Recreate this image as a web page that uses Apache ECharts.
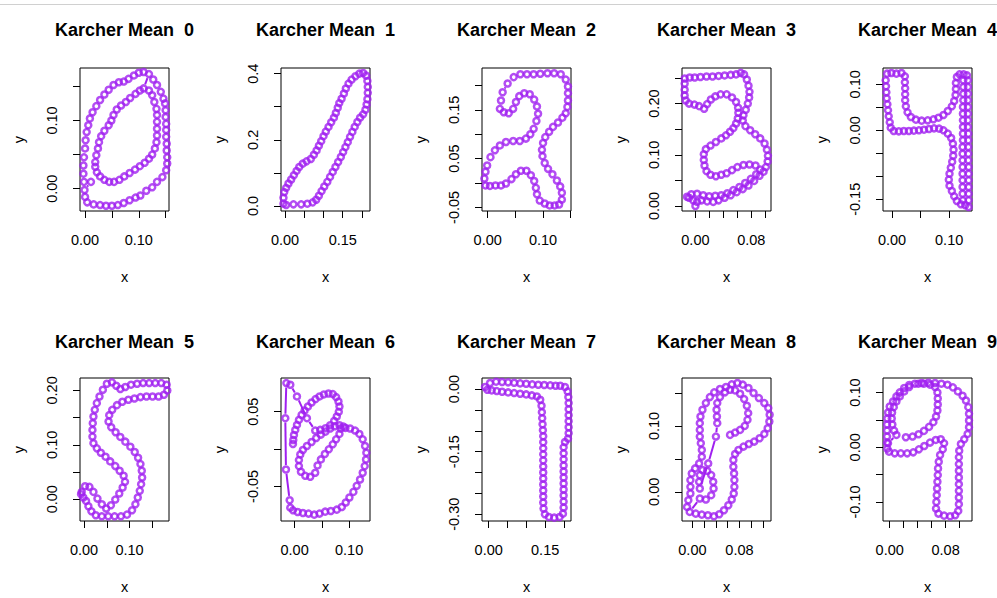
<!DOCTYPE html>
<html><head><meta charset="utf-8">
<script src="https://cdn.jsdelivr.net/npm/echarts@6/dist/echarts.min.js"></script>
<style>html,body{margin:0;padding:0;background:#fff}#c{width:997px;height:598px}</style>
</head><body><div id="c"></div>
<script>
const titles = ['Karcher Mean  0','Karcher Mean  1','Karcher Mean  2','Karcher Mean  3','Karcher Mean  4','Karcher Mean  5','Karcher Mean  6','Karcher Mean  7','Karcher Mean  8','Karcher Mean  9'];

const mean0 = [[0.109,0.171],[0.100,0.170],[0.091,0.166],[0.081,0.161],[0.072,0.157],[0.063,0.156],[0.053,0.152],[0.044,0.145],[0.036,0.138],[0.028,0.130],[0.021,0.121],[0.014,0.112],[0.009,0.103],[0.006,0.093],[0.003,0.083],[0.001,0.071],[0.000,0.059],[-0.002,0.046],[-0.003,0.034],[-0.003,0.022],[-0.002,0.010],[0.011,0.010],[-0.001,-0.002],[0.000,-0.012],[0.004,-0.020],[0.016,-0.023],[0.028,-0.024],[0.039,-0.025],[0.050,-0.025],[0.061,-0.024],[0.072,-0.021],[0.083,-0.017],[0.094,-0.013],[0.103,-0.010],[0.114,-0.003],[0.125,0.002],[0.134,0.010],[0.144,0.017],[0.151,0.027],[0.153,0.037],[0.153,0.046],[0.152,0.056],[0.152,0.066],[0.151,0.076],[0.151,0.086],[0.151,0.095],[0.150,0.105],[0.150,0.115],[0.149,0.125],[0.146,0.132],[0.141,0.142],[0.134,0.152],[0.127,0.160],[0.119,0.168],[0.109,0.147],[0.102,0.144],[0.094,0.139],[0.084,0.133],[0.076,0.127],[0.067,0.122],[0.059,0.116],[0.053,0.108],[0.049,0.100],[0.044,0.093],[0.036,0.085],[0.030,0.077],[0.026,0.068],[0.024,0.059],[0.021,0.049],[0.019,0.039],[0.019,0.032],[0.022,0.024],[0.028,0.018],[0.036,0.013],[0.045,0.010],[0.054,0.010],[0.064,0.013],[0.073,0.018],[0.083,0.023],[0.093,0.028],[0.102,0.033],[0.111,0.038],[0.119,0.044],[0.125,0.050],[0.130,0.059],[0.133,0.068],[0.134,0.078],[0.134,0.088],[0.134,0.098],[0.134,0.108],[0.133,0.117],[0.129,0.127],[0.125,0.137],[0.119,0.144]];

const mean1 = [[-0.004,0.007],[-0.004,0.025],[-0.002,0.042],[0.003,0.055],[0.009,0.068],[0.016,0.080],[0.023,0.093],[0.030,0.106],[0.037,0.118],[0.046,0.128],[0.056,0.135],[0.067,0.142],[0.075,0.155],[0.082,0.168],[0.088,0.182],[0.094,0.196],[0.100,0.211],[0.106,0.225],[0.113,0.239],[0.120,0.253],[0.127,0.267],[0.132,0.281],[0.137,0.297],[0.141,0.311],[0.147,0.324],[0.153,0.340],[0.158,0.355],[0.165,0.370],[0.173,0.382],[0.183,0.392],[0.193,0.400],[0.203,0.402],[0.211,0.394],[0.214,0.378],[0.215,0.360],[0.215,0.342],[0.214,0.323],[0.212,0.307],[0.209,0.291],[0.203,0.277],[0.195,0.267],[0.188,0.254],[0.181,0.239],[0.175,0.224],[0.169,0.209],[0.163,0.193],[0.157,0.178],[0.151,0.163],[0.145,0.148],[0.138,0.133],[0.131,0.118],[0.124,0.103],[0.117,0.088],[0.110,0.073],[0.102,0.059],[0.095,0.045],[0.088,0.031],[0.081,0.019],[0.072,0.011],[0.058,0.007],[0.042,0.005],[0.022,0.005],[0.003,0.003]];

const mean2 = [[0.022,0.152],[0.024,0.169],[0.027,0.186],[0.036,0.204],[0.047,0.217],[0.059,0.223],[0.071,0.223],[0.083,0.223],[0.095,0.224],[0.108,0.225],[0.120,0.225],[0.132,0.223],[0.141,0.212],[0.145,0.198],[0.145,0.184],[0.145,0.169],[0.144,0.156],[0.141,0.143],[0.135,0.134],[0.127,0.124],[0.118,0.115],[0.111,0.105],[0.104,0.094],[0.100,0.082],[0.098,0.068],[0.099,0.055],[0.103,0.041],[0.109,0.029],[0.117,0.018],[0.125,0.005],[0.131,-0.007],[0.134,-0.020],[0.134,-0.034],[0.129,-0.044],[0.121,-0.046],[0.112,-0.046],[0.103,-0.042],[0.094,-0.036],[0.089,-0.023],[0.087,-0.010],[0.084,0.004],[0.078,0.016],[0.070,0.025],[0.060,0.025],[0.051,0.018],[0.043,0.008],[0.033,-0.001],[0.024,-0.005],[0.014,-0.005],[0.004,-0.006],[-0.004,-0.005],[-0.006,0.009],[-0.004,0.023],[-0.001,0.036],[0.005,0.053],[0.013,0.067],[0.022,0.077],[0.033,0.084],[0.046,0.086],[0.058,0.086],[0.069,0.091],[0.077,0.100],[0.083,0.111],[0.088,0.127],[0.091,0.142],[0.089,0.157],[0.084,0.171],[0.076,0.182],[0.066,0.184],[0.057,0.178],[0.051,0.166],[0.046,0.152],[0.038,0.143],[0.029,0.145]];

const mean3 = [[-0.0154,0.249],[-0.0082,0.251],[-0.0010,0.251],[0.0072,0.252],[0.0159,0.253],[0.0245,0.253],[0.0332,0.254],[0.0418,0.255],[0.0505,0.256],[0.0582,0.257],[0.0649,0.260],[0.0697,0.257],[0.0736,0.247],[0.0760,0.235],[0.0774,0.223],[0.0769,0.212],[0.0750,0.200],[0.0721,0.188],[0.0688,0.177],[0.0678,0.167],[0.0716,0.156],[0.0784,0.148],[0.0856,0.140],[0.0928,0.132],[0.0990,0.122],[0.1024,0.110],[0.1038,0.098],[0.1034,0.087],[0.1010,0.076],[0.0976,0.067],[0.0918,0.059],[0.0841,0.049],[0.0760,0.040],[0.0678,0.033],[0.0591,0.027],[0.0505,0.021],[0.0418,0.016],[0.0332,0.011],[0.0255,0.008],[0.0168,0.009],[0.0087,0.011],[0.0024,0.008],[0.0000,0.000],[-0.0034,0.011],[-0.0091,0.016],[-0.0120,0.018],[-0.0058,0.023],[0.0024,0.024],[0.0111,0.021],[0.0197,0.019],[0.0284,0.020],[0.0370,0.021],[0.0457,0.025],[0.0543,0.031],[0.0630,0.037],[0.0712,0.045],[0.0793,0.053],[0.0870,0.062],[0.0928,0.071],[0.0861,0.079],[0.0774,0.081],[0.0688,0.080],[0.0601,0.076],[0.0524,0.070],[0.0447,0.064],[0.0370,0.061],[0.0293,0.058],[0.0216,0.061],[0.0159,0.068],[0.0130,0.079],[0.0120,0.090],[0.0120,0.101],[0.0149,0.111],[0.0216,0.118],[0.0293,0.125],[0.0370,0.132],[0.0438,0.138],[0.0495,0.145],[0.0543,0.152],[0.0582,0.161],[0.0606,0.171],[0.0615,0.182],[0.0611,0.192],[0.0582,0.203],[0.0524,0.212],[0.0447,0.218],[0.0361,0.218],[0.0284,0.214],[0.0221,0.208],[0.0168,0.199],[0.0125,0.190],[0.0053,0.195],[-0.0014,0.198],[-0.0091,0.200],[-0.0139,0.206],[-0.0154,0.216],[-0.0154,0.227],[-0.0154,0.239]];

const mean4 = [[0.1341,-0.1667],[0.1341,-0.1522],[0.1341,-0.1377],[0.1341,-0.1232],[0.1341,-0.1087],[0.1341,-0.0942],[0.1341,-0.0797],[0.1335,-0.0652],[0.1335,-0.0507],[0.1335,-0.0362],[0.1335,-0.0217],[0.1335,-0.0072],[0.1329,0.0072],[0.1329,0.0217],[0.1329,0.0362],[0.1329,0.0507],[0.1329,0.0652],[0.1329,0.0797],[0.1329,0.0942],[0.1329,0.1087],[0.1312,0.1196],[0.1253,0.1217],[0.1182,0.1217],[0.1135,0.1159],[0.1118,0.1029],[0.1118,0.0899],[0.1112,0.0768],[0.1088,0.0638],[0.1047,0.0522],[0.0976,0.0420],[0.0900,0.0333],[0.0812,0.0275],[0.0724,0.0239],[0.0624,0.0217],[0.0518,0.0210],[0.0418,0.0232],[0.0329,0.0290],[0.0271,0.0391],[0.0241,0.0522],[0.0229,0.0652],[0.0229,0.0783],[0.0229,0.0913],[0.0224,0.1043],[0.0224,0.1174],[0.0165,0.1246],[0.0076,0.1232],[-0.0012,0.1246],[-0.0088,0.1232],[-0.0112,0.1087],[-0.0106,0.0957],[-0.0100,0.0826],[-0.0094,0.0696],[-0.0082,0.0565],[-0.0071,0.0435],[-0.0059,0.0304],[-0.0041,0.0174],[-0.0024,0.0058],[0.0029,-0.0014],[0.0118,-0.0022],[0.0206,-0.0014],[0.0294,-0.0014],[0.0382,-0.0007],[0.0471,0.0000],[0.0559,0.0014],[0.0647,0.0029],[0.0735,0.0043],[0.0824,0.0036],[0.0900,0.0000],[0.0976,-0.0072],[0.1035,-0.0167],[0.1065,-0.0290],[0.1076,-0.0420],[0.1071,-0.0551],[0.1053,-0.0681],[0.1029,-0.0812],[0.1006,-0.0942],[0.0994,-0.1072],[0.1006,-0.1203],[0.1047,-0.1319],[0.1088,-0.1435],[0.1135,-0.1536],[0.1206,-0.1609],[0.1282,-0.1630],[0.1241,-0.1522],[0.1235,-0.1377],[0.1235,-0.1232],[0.1235,-0.1087],[0.1235,-0.0942],[0.1235,-0.0797],[0.1235,-0.0652],[0.1235,-0.0507],[0.1235,-0.0362],[0.1241,-0.0217],[0.1241,-0.0072],[0.1241,0.0072],[0.1241,0.0217],[0.1241,0.0362],[0.1241,0.0507],[0.1247,0.0652],[0.1247,0.0797],[0.1247,0.0942],[0.1247,0.1087]];

const mean5 = [[-0.0052,0.0135],[0.0022,0.0240],[0.0118,0.0228],[0.0207,0.0135],[0.0295,0.0012],[0.0391,-0.0092],[0.0487,-0.0172],[0.0591,-0.0111],[0.0687,-0.0006],[0.0775,0.0105],[0.0849,0.0215],[0.0901,0.0320],[0.0871,0.0431],[0.0783,0.0523],[0.0687,0.0609],[0.0576,0.0695],[0.0473,0.0782],[0.0369,0.0855],[0.0281,0.0935],[0.0207,0.1028],[0.0185,0.1151],[0.0185,0.1274],[0.0192,0.1397],[0.0207,0.1520],[0.0236,0.1643],[0.0281,0.1766],[0.0340,0.1889],[0.0414,0.2012],[0.0502,0.2123],[0.0613,0.2148],[0.0709,0.2086],[0.0798,0.2025],[0.0908,0.2062],[0.1034,0.2105],[0.1167,0.2123],[0.1300,0.2135],[0.1433,0.2135],[0.1566,0.2135],[0.1699,0.2135],[0.1817,0.2105],[0.1832,0.2000],[0.1758,0.1920],[0.1640,0.1889],[0.1507,0.1889],[0.1374,0.1889],[0.1241,0.1877],[0.1108,0.1852],[0.0975,0.1828],[0.0842,0.1791],[0.0724,0.1729],[0.0620,0.1643],[0.0554,0.1545],[0.0539,0.1428],[0.0598,0.1323],[0.0694,0.1231],[0.0798,0.1145],[0.0908,0.1058],[0.1019,0.0966],[0.1115,0.0868],[0.1189,0.0763],[0.1241,0.0646],[0.1270,0.0523],[0.1278,0.0400],[0.1256,0.0277],[0.1226,0.0154],[0.1182,0.0031],[0.1130,-0.0092],[0.1056,-0.0203],[0.0945,-0.0283],[0.0812,-0.0314],[0.0672,-0.0314],[0.0532,-0.0314],[0.0391,-0.0314],[0.0258,-0.0295],[0.0162,-0.0222],[0.0096,-0.0129],[0.0044,-0.0031],[-0.0015,0.0031],[-0.0066,0.0092]];

const mean6 = [[-0.0030,0.0067],[-0.0024,0.0121],[-0.0012,0.0188],[0.0012,0.0256],[0.0043,0.0323],[0.0079,0.0390],[0.0128,0.0457],[0.0183,0.0516],[0.0244,0.0570],[0.0311,0.0623],[0.0384,0.0668],[0.0457,0.0704],[0.0537,0.0731],[0.0622,0.0744],[0.0701,0.0735],[0.0762,0.0695],[0.0805,0.0637],[0.0823,0.0570],[0.0811,0.0498],[0.0774,0.0435],[0.0726,0.0377],[0.0652,0.0318],[0.0567,0.0278],[0.0470,0.0256],[0.0378,0.0247],[0.0226,0.0413],[0.0043,0.0704],[-0.0079,0.0861],[-0.0152,0.0883],[-0.0171,0.0413],[-0.0159,-0.0274],[-0.0091,-0.0686],[-0.0079,-0.0785],[-0.0030,-0.0821],[0.0055,-0.0843],[0.0152,-0.0857],[0.0256,-0.0865],[0.0360,-0.0879],[0.0457,-0.0865],[0.0561,-0.0839],[0.0665,-0.0830],[0.0774,-0.0812],[0.0866,-0.0776],[0.0939,-0.0717],[0.1006,-0.0650],[0.1079,-0.0574],[0.1140,-0.0493],[0.1201,-0.0408],[0.1250,-0.0318],[0.1287,-0.0229],[0.1311,-0.0139],[0.1317,-0.0049],[0.1293,0.0040],[0.1250,0.0130],[0.1189,0.0202],[0.1110,0.0247],[0.1018,0.0274],[0.0933,0.0283],[0.0848,0.0274],[0.0823,0.0202],[0.0762,0.0130],[0.0701,0.0063],[0.0628,-0.0004],[0.0555,-0.0067],[0.0482,-0.0139],[0.0421,-0.0220],[0.0378,-0.0318],[0.0287,-0.0372],[0.0195,-0.0359],[0.0116,-0.0305],[0.0079,-0.0229],[0.0079,-0.0148],[0.0104,-0.0072],[0.0152,-0.0013],[0.0226,0.0040],[0.0311,0.0094],[0.0396,0.0148],[0.0482,0.0193],[0.0567,0.0233],[0.0652,0.0274],[0.0738,0.0305],[0.0823,0.0318],[0.0896,0.0300]];

const mean7 = [[-0.0098,0.0048],[0.0036,0.0144],[0.0196,0.0177],[0.0356,0.0169],[0.0516,0.0161],[0.0676,0.0152],[0.0836,0.0136],[0.0996,0.0128],[0.1156,0.0112],[0.1316,0.0104],[0.1476,0.0096],[0.1636,0.0088],[0.1778,0.0080],[0.1902,0.0080],[0.2027,0.0048],[0.2098,-0.0056],[0.2116,-0.0193],[0.2124,-0.0337],[0.2124,-0.0482],[0.2124,-0.0626],[0.2124,-0.0770],[0.2124,-0.0915],[0.2124,-0.1059],[0.2107,-0.1188],[0.2027,-0.1268],[0.1991,-0.1396],[0.1991,-0.1541],[0.1991,-0.1685],[0.1991,-0.1830],[0.1991,-0.1974],[0.1991,-0.2119],[0.1991,-0.2263],[0.1991,-0.2408],[0.1991,-0.2552],[0.1991,-0.2697],[0.1991,-0.2841],[0.1973,-0.2986],[0.1884,-0.3066],[0.1742,-0.3082],[0.1600,-0.3066],[0.1493,-0.3002],[0.1458,-0.2865],[0.1449,-0.2721],[0.1449,-0.2576],[0.1449,-0.2432],[0.1449,-0.2287],[0.1449,-0.2143],[0.1449,-0.1998],[0.1449,-0.1854],[0.1449,-0.1709],[0.1449,-0.1565],[0.1449,-0.1421],[0.1449,-0.1276],[0.1449,-0.1132],[0.1440,-0.0987],[0.1431,-0.0843],[0.1422,-0.0698],[0.1413,-0.0554],[0.1404,-0.0401],[0.1369,-0.0257],[0.1280,-0.0177],[0.1147,-0.0152],[0.0996,-0.0128],[0.0836,-0.0112],[0.0676,-0.0096],[0.0516,-0.0080],[0.0356,-0.0064],[0.0213,-0.0048],[0.0080,-0.0032],[-0.0036,-0.0016]];

const mean8 = [[-0.0091,-0.0229],[-0.0069,-0.0127],[-0.0034,-0.0025],[-0.0034,0.0076],[-0.0034,0.0178],[-0.0011,0.0280],[0.0046,0.0356],[0.0114,0.0432],[0.0160,0.0534],[0.0160,0.0636],[0.0143,0.0738],[0.0126,0.0839],[0.0126,0.0941],[0.0126,0.1043],[0.0137,0.1144],[0.0171,0.1246],[0.0229,0.1348],[0.0297,0.1439],[0.0371,0.1511],[0.0469,0.1562],[0.0571,0.1592],[0.0669,0.1633],[0.0766,0.1653],[0.0857,0.1628],[0.0954,0.1577],[0.1040,0.1501],[0.1131,0.1424],[0.1223,0.1348],[0.1291,0.1272],[0.1314,0.1170],[0.1309,0.1068],[0.1280,0.0966],[0.1223,0.0880],[0.1143,0.0814],[0.1051,0.0763],[0.0960,0.0727],[0.0869,0.0687],[0.0783,0.0636],[0.0726,0.0575],[0.0697,0.0483],[0.0697,0.0381],[0.0709,0.0280],[0.0714,0.0178],[0.0714,0.0076],[0.0703,-0.0025],[0.0669,-0.0117],[0.0611,-0.0203],[0.0537,-0.0280],[0.0457,-0.0341],[0.0366,-0.0371],[0.0263,-0.0356],[0.0160,-0.0346],[0.0057,-0.0331],[-0.0046,-0.0305],[0.0126,-0.0102],[0.0229,-0.0117],[0.0320,-0.0051],[0.0360,0.0051],[0.0354,0.0153],[0.0320,0.0254],[0.0251,0.0320],[0.0171,0.0331],[0.0126,0.0254],[0.0114,0.0153],[0.0126,0.0051],[0.0269,0.0432],[0.0400,0.0839],[0.0423,0.1043],[0.0417,0.1144],[0.0411,0.1246],[0.0423,0.1348],[0.0469,0.1439],[0.0554,0.1511],[0.0640,0.1551],[0.0726,0.1541],[0.0811,0.1490],[0.0880,0.1409],[0.0926,0.1307],[0.0949,0.1195],[0.0937,0.1094],[0.0891,0.1002],[0.0811,0.0941],[0.0726,0.0900],[0.0640,0.0865]];

const mean9 = [[0.0231,0.0183],[0.0327,0.0196],[0.0413,0.0239],[0.0490,0.0300],[0.0563,0.0373],[0.0625,0.0459],[0.0663,0.0563],[0.0683,0.0673],[0.0688,0.0783],[0.0688,0.0893],[0.0683,0.1003],[0.0649,0.1101],[0.0577,0.1144],[0.0490,0.1162],[0.0409,0.1162],[0.0279,0.1101],[0.0207,0.1021],[0.0144,0.0930],[0.0096,0.0838],[0.0058,0.0734],[0.0034,0.0636],[0.0029,0.0526],[0.0038,0.0416],[0.0063,0.0306],[0.0096,0.0226],[-0.0024,0.0073],[-0.0010,-0.0080],[0.0072,-0.0110],[0.0159,-0.0110],[0.0250,-0.0110],[0.0337,-0.0092],[0.0418,-0.0037],[0.0495,0.0024],[0.0577,0.0086],[0.0659,0.0135],[0.0731,0.0147],[0.0779,0.0073],[0.0760,-0.0037],[0.0721,-0.0141],[0.0702,-0.0263],[0.0692,-0.0385],[0.0688,-0.0508],[0.0683,-0.0630],[0.0678,-0.0752],[0.0673,-0.0875],[0.0668,-0.0997],[0.0663,-0.1119],[0.0697,-0.1211],[0.0779,-0.1248],[0.0865,-0.1260],[0.0938,-0.1242],[0.0981,-0.1162],[0.0990,-0.1040],[0.0990,-0.0917],[0.0990,-0.0795],[0.0990,-0.0673],[0.0990,-0.0550],[0.0990,-0.0428],[0.0990,-0.0306],[0.0990,-0.0183],[0.0995,-0.0061],[0.1019,0.0061],[0.1067,0.0147],[0.1115,0.0245],[0.1135,0.0367],[0.1135,0.0489],[0.1135,0.0612],[0.1125,0.0734],[0.1091,0.0856],[0.1043,0.0942],[0.0976,0.1021],[0.0904,0.1095],[0.0827,0.1144],[0.0740,0.1162],[0.0649,0.1174],[0.0553,0.1180],[0.0457,0.1174],[0.0361,0.1162],[0.0279,0.1138],[0.0207,0.1083],[0.0144,0.1003],[0.0096,0.0930],[0.0048,0.0838],[0.0000,0.0746],[-0.0024,0.0636],[-0.0034,0.0526],[-0.0038,0.0416],[-0.0038,0.0306],[-0.0038,0.0196],[-0.0038,0.0086],[-0.0034,-0.0024]];

const means = [mean0, mean1, mean2, mean3, mean4, mean5, mean6, mean7, mean8, mean9];

// axis ranges
const xRanges = [[-0.0094,0.1563],[-0.0104,0.2208],[-0.0103,0.1505],[-0.0192,0.1082],[-0.0159,0.1400],[-0.0089,0.1869],[-0.0250,0.1384],[-0.0178,0.2187],[-0.0177,0.1337],[-0.0096,0.1178]];
const yRanges = [[-0.0327,0.1769],[-0.0151,0.4171],[-0.0574,0.2357],[-0.0098,0.2695],[-0.1754,0.1355],[-0.0400,0.2228],[-0.0964,0.0951],[-0.3162,0.0265],[-0.0443,0.1729],[-0.1346,0.1266]];

// tick marks and tick labels
const xTicks = [[0,0.05,0.10,0.15],[0,0.05,0.10,0.15,0.20],[0,0.05,0.10,0.15],[0,0.02,0.04,0.06,0.08,0.10],[0,0.05,0.10],[0,0.05,0.10,0.15],[0,0.05,0.10],[0,0.05,0.10,0.15,0.20],[0,0.02,0.04,0.06,0.08,0.10,0.12],[0,0.02,0.04,0.06,0.08,0.10]];
const xLabels = [[0,0.10],[0,0.15],[0,0.10],[0,0.08],[0,0.10],[0,0.10],[0,0.10],[0,0.15],[0,0.08],[0,0.08]];
const yTicks = [[0,0.05,0.10,0.15],[0,0.1,0.2,0.3,0.4],[-0.05,0,0.05,0.10,0.15,0.20],[0,0.05,0.10,0.15,0.20,0.25],[-0.15,-0.10,-0.05,0,0.05,0.10],[0,0.05,0.10,0.15,0.20],[-0.05,0,0.05],[-0.30,-0.25,-0.20,-0.15,-0.10,-0.05,0],[0,0.05,0.10,0.15],[-0.10,-0.05,0,0.05,0.10]];
const yLabels = [[0,0.10],[0,0.2,0.4],[-0.05,0.05,0.15],[0,0.10,0.20],[-0.15,0,0.10],[0,0.10,0.20],[-0.05,0.05],[-0.30,-0.15,0],[0,0.10],[-0.10,0,0.10]];
const yDigits = [2,1,2,2,2,2,2,2,2,2];

const purple = '#A020F0';
const FONT = '"Liberation Sans", Arial, Helvetica, sans-serif';
const boxLeft = [80, 281, 482, 682, 883];
const boxTop = [68, 378];
const boxW = 89, boxH = 143;
const GAP = 4.4; // gap around each point for the connecting segments (R type = "b")

function segRender(params, api) {
  const p1 = api.coord([api.value(0), api.value(1)]);
  const p2 = api.coord([api.value(2), api.value(3)]);
  const dx = p2[0] - p1[0], dy = p2[1] - p1[1];
  const d = Math.sqrt(dx * dx + dy * dy);
  if (d <= 2 * GAP + 0.5) return null;
  const ux = dx / d, uy = dy / d;
  return {type: 'line', shape: {x1: p1[0] + ux * GAP, y1: p1[1] + uy * GAP, x2: p2[0] - ux * GAP, y2: p2[1] - uy * GAP},
    style: {stroke: purple, lineWidth: 2, fill: null}};
}

const grids = [], xAxes = [], yAxes = [], series = [], titleList = [];
for (let i = 0; i < 10; i++) {
  const col = i % 5, row = Math.floor(i / 5);
  const L = boxLeft[col], T = boxTop[row];
  grids.push({left: L, top: T, width: boxW, height: boxH, show: true, borderColor: '#000', borderWidth: 1, backgroundColor: 'transparent'});
  xAxes.push({
    type: 'value', gridIndex: i, min: xRanges[i][0], max: xRanges[i][1],
    splitLine: {show: false}, axisLine: {show: false, onZero: false},
    axisTick: {show: true, inside: false, length: 7, lineStyle: {color: '#000', width: 1}, customValues: xTicks[i]},
    axisLabel: {show: true, customValues: xLabels[i], formatter: v => v.toFixed(2), color: '#000', fontSize: 14.5, fontFamily: FONT, margin: 21},
    name: 'x', nameLocation: 'middle', nameGap: 58, nameTextStyle: {color: '#000', fontSize: 14.5, fontFamily: FONT}
  });
  yAxes.push({
    type: 'value', gridIndex: i, min: yRanges[i][0], max: yRanges[i][1],
    splitLine: {show: false}, axisLine: {show: false, onZero: false},
    axisTick: {show: true, inside: false, length: 7, lineStyle: {color: '#000', width: 1}, customValues: yTicks[i]},
    axisLabel: {show: true, customValues: yLabels[i], rotate: 90, formatter: (d => v => v.toFixed(d))(yDigits[i]), color: '#000', fontSize: 14.5, fontFamily: FONT, margin: 21},
    name: 'y', nameLocation: 'middle', nameGap: 54, nameTextStyle: {color: '#000', fontSize: 14.5, fontFamily: FONT}
  });
  const pts = means[i];
  const segs = [];
  for (let k = 0; k + 1 < pts.length; k++) segs.push([pts[k][0], pts[k][1], pts[k + 1][0], pts[k + 1][1]]);
  series.push({
    type: 'custom', xAxisIndex: i, yAxisIndex: i, data: segs, renderItem: segRender, clip: true,
    encode: {x: [0, 2], y: [1, 3]}, silent: true, animation: false
  });
  series.push({
    type: 'scatter', xAxisIndex: i, yAxisIndex: i, data: pts,
    symbol: 'circle', symbolSize: 6, clip: true,
    itemStyle: {color: 'rgba(0,0,0,0)', borderColor: purple, borderWidth: 2.5},
    emphasis: {disabled: true}, animation: false, silent: true
  });
  titleList.push({text: titles[i], left: L + boxW / 2, top: row === 0 ? 21 : 333, textAlign: 'center', padding: 0,
    textStyle: {fontSize: 18, fontWeight: 'bold', color: '#000', fontFamily: FONT}});
}

const chart = echarts.init(document.getElementById('c'), null, {renderer: 'svg', width: 997, height: 598});
chart.setOption({
  backgroundColor: '#fff',
  animation: false,
  title: titleList,
  grid: grids,
  xAxis: xAxes,
  yAxis: yAxes,
  series: series,
  graphic: [{type: 'line', shape: {x1: 0, y1: 4.5, x2: 997, y2: 4.5}, style: {stroke: '#d0d0d0', lineWidth: 1}}]
});
</script></body></html>
